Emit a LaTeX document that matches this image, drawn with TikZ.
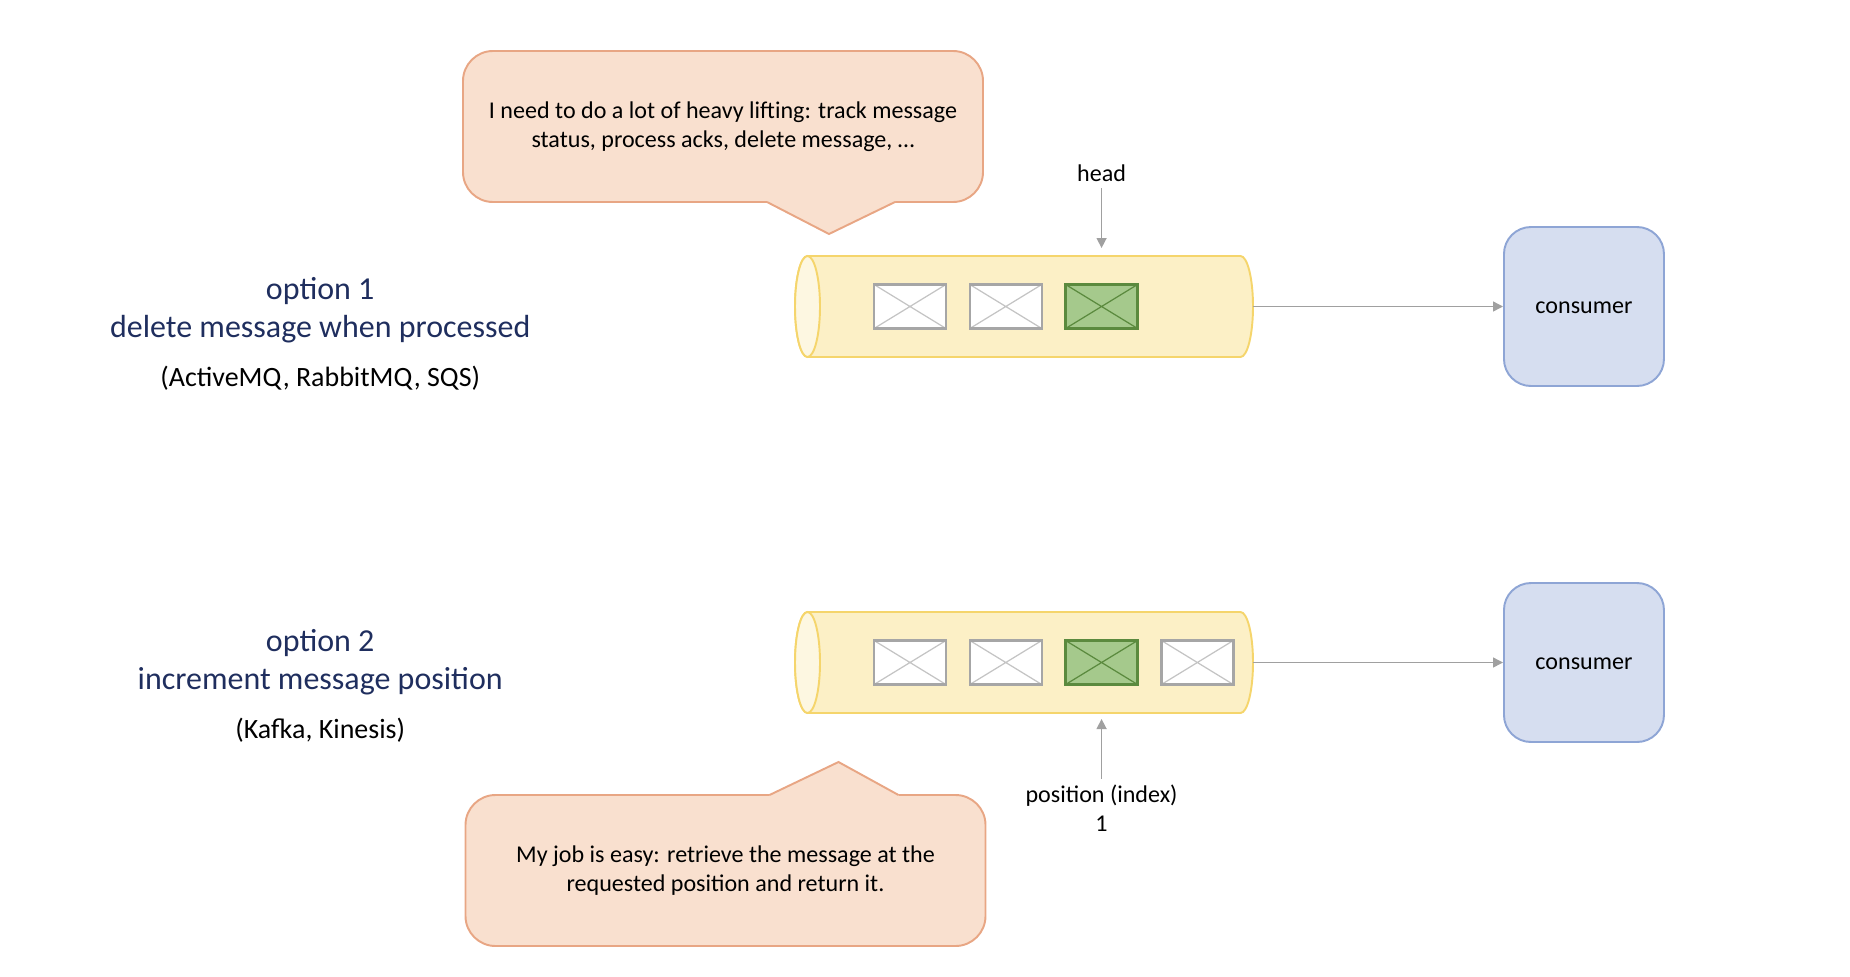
\documentclass[tikz,border=0pt]{standalone}
\usepackage{fontspec}
\setmainfont{Carlito}
\usetikzlibrary{positioning}
\usetikzlibrary{arrows.meta}

\definecolor{notefill}{HTML}{F9E0CF}
\definecolor{noteline}{HTML}{E8A684}
\definecolor{queuefill}{HTML}{FCF0C6}
\definecolor{queueend}{HTML}{FDF7E1}
\definecolor{queueline}{HTML}{F5D56C}
\definecolor{consfill}{HTML}{D6DEF0}
\definecolor{consline}{HTML}{8EA5D5}
\definecolor{headfill}{HTML}{A5C98C}
\definecolor{headline}{HTML}{5B8A3E}
\definecolor{msgline}{HTML}{A6A6A6}
\definecolor{msgcross}{HTML}{C4C4C4}
\definecolor{arrowgray}{HTML}{A0A0A0}
\definecolor{optblue}{HTML}{1F2E5E}

% tube drawn round a queue node
\newcommand{\queuetube}[1]{
    \filldraw[draw=queueline, fill=queuefill, line width=1.1pt]
        ([xshift=0.25cm]#1.north west) -- ([xshift=-0.25cm]#1.north east)
        arc[start angle=90, end angle=-90, x radius=0.25cm, y radius=1.01cm]
        -- ([xshift=0.25cm]#1.south west)
        arc[start angle=270, end angle=90, x radius=0.25cm, y radius=1.01cm] -- cycle;
    \filldraw[draw=queueline, fill=queueend, line width=1.1pt]
        ([xshift=0.25cm]#1.west) ellipse[x radius=0.25cm, y radius=1.01cm];
}

\tikzset{
  small/.style={font=\fontsize{13.7}{16.4}\selectfont},
  heading/.style={font=\fontsize{18.2}{21.7}\selectfont, text=optblue, align=center},
  systems/.style={font=\fontsize{15.9}{19}\selectfont},
  lbl/.style={small, align=center},
  note/.style={small, align=center, rectangle, rounded corners=0.6cm, draw=noteline, fill=notefill,
    line width=1.1pt, outer sep=0pt, minimum width=10.4cm, minimum height=3.02cm},
  queue/.style={rectangle, minimum width=9.16cm, minimum height=2.02cm, inner sep=0pt, outer sep=0pt},
  envelope/.style={rectangle, draw=msgline, fill=white, line width=1.3pt, minimum width=1.44cm,
    minimum height=0.88cm, inner sep=0pt,
    path picture={\draw[draw=#1, line width=0.7pt]
      (path picture bounding box.north west) -- (path picture bounding box.south east)
      (path picture bounding box.south west) -- (path picture bounding box.north east);}},
  envelope/.default=msgcross,
  consumer/.style={small, rectangle, rounded corners=0.54cm, draw=consline, fill=consfill,
    line width=1.1pt, minimum width=3.2cm, minimum height=3.18cm, text height=0.76em, text depth=0pt},
  flow/.style={draw=arrowgray, line width=0.8pt, -{Triangle[length=0.2cm, width=0.2cm]}},
}

\begin{document}
\begin{tikzpicture}
    \useasboundingbox (0,0) rectangle (37,-19.54);

    % option 1 (top)
    \node[queue] (queue1) at (20.48,-6.13) {};
    \queuetube{queue1}
    \node[envelope] (m1-a) at ([xshift=-2.28cm]queue1.center) {};
    \node[envelope, right=0.43 of m1-a] (m1-b) {};
    \node[envelope=headline, fill=headfill, draw=headline, right=0.43 of m1-b] (m1-c) {};
    \node[consumer, right=5 of queue1] (consumer1) {consumer};
    \draw[flow] (queue1) -- (consumer1);
    \node[lbl, above=1.9 of m1-c] (head) {head};
    \draw[flow, shorten >=0.16cm] (head) -- (head |- queue1.north);
    \node[heading, left=5.17 of queue1, yshift=-0.07cm] (opt1) {option 1\\delete message when processed};
    \node[systems, below=0.21 of opt1] (sys1) {(ActiveMQ, RabbitMQ, SQS)};
    % callout above the first queue
    \node[note] (note1) at (14.46,-2.53)
        {I need to do a lot of heavy lifting: track message\\status, process acks, delete message, …};
    \fill[notefill] ([xshift=0.88cm, yshift=0.1cm]note1.south) -- ([xshift=0.88cm]note1.south)
        -- ([xshift=2.12cm, yshift=-0.64cm]note1.south) -- ([xshift=3.44cm]note1.south)
        -- ([xshift=3.44cm, yshift=0.1cm]note1.south) -- cycle;
    \draw[noteline, line width=1.1pt] ([xshift=0.88cm]note1.south)
        -- ([xshift=2.12cm, yshift=-0.64cm]note1.south) -- ([xshift=3.44cm]note1.south);

    % option 2 (bottom)
    \node[queue, below=5.1 of queue1] (queue2) {};
    \queuetube{queue2}
    \node[envelope] (m2-a) at (m1-a |- queue2) {};
    \node[envelope, right=0.43 of m2-a] (m2-b) {};
    \node[envelope=headline, fill=headfill, draw=headline, right=0.43 of m2-b] (m2-c) {};
    \node[envelope, right=0.43 of m2-c] (m2-d) {};
    \node[consumer, right=5 of queue2] (consumer2) {consumer};
    \draw[flow] (queue2) -- (consumer2);
    \node[lbl, below=1.86 of m2-c] (pos) {position (index)\\1};
    \draw[flow, shorten >=0.12cm] (pos) -- (pos |- queue2.south);
    \node[heading] (opt2) at (opt1 |- queue2) {option 2\\increment message position};
    \node[systems, below=0.21 of opt2] (sys2) {(Kafka, Kinesis)};
    % callout below the second queue
    \node[note] (note2) at (14.51,-17.41)
        {My job is easy: retrieve the message at the\\requested position and return it.};
    \fill[notefill] ([xshift=0.88cm, yshift=-0.1cm]note2.north) -- ([xshift=0.88cm]note2.north)
        -- ([xshift=2.26cm, yshift=0.66cm]note2.north) -- ([xshift=3.46cm]note2.north)
        -- ([xshift=3.46cm, yshift=-0.1cm]note2.north) -- cycle;
    \draw[noteline, line width=1.1pt] ([xshift=0.88cm]note2.north)
        -- ([xshift=2.26cm, yshift=0.66cm]note2.north) -- ([xshift=3.46cm]note2.north);

\end{tikzpicture}
\end{document}
